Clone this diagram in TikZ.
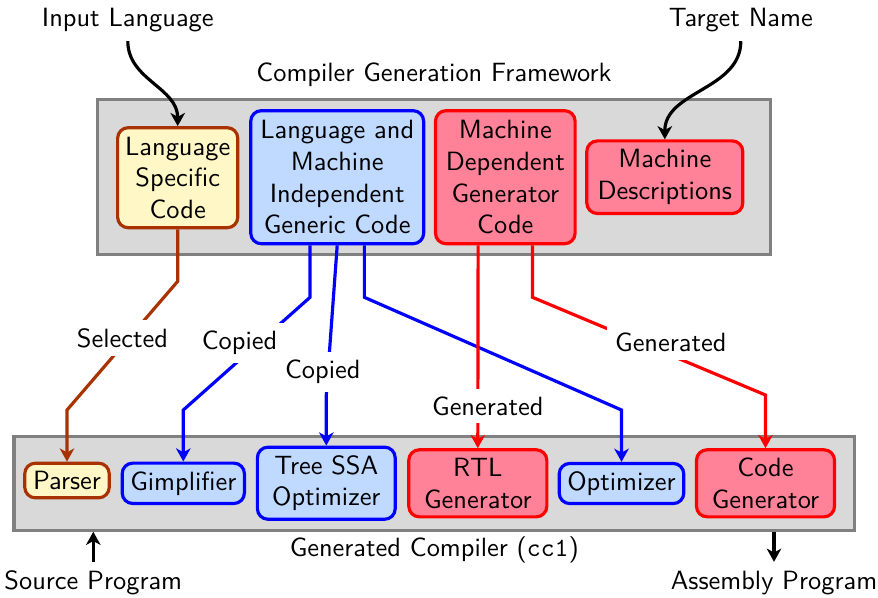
\documentclass[tikz,border=0pt]{standalone}
\usepackage{xcolor}
\usetikzlibrary{arrows.meta}
\definecolor{yelfill}{HTML}{FFF8C6}
\definecolor{yeldraw}{HTML}{A83200}
\definecolor{bluefill}{HTML}{BFD9FF}
\definecolor{redfill}{HTML}{FF8298}
\definecolor{panelfill}{HTML}{D9D9D9}
\definecolor{paneldraw}{HTML}{808080}

\begin{document}
\begin{tikzpicture}[x=0.3788pt,y=0.3788pt,yscale=-1,xscale=1,font=\sffamily,
	box/.style={rounded corners=4pt,very thick,align=center,inner sep=1pt},
	langbox/.style={box,draw=yeldraw,fill=yelfill},
	genbox/.style={box,draw=blue,fill=bluefill},
	machbox/.style={box,draw=red,fill=redfill},
	panel/.style={draw=paneldraw,fill=panelfill,very thick,inner sep=0pt},
	lab/.style={fill=white,inner sep=3pt},
	link/.style={very thick,-{Stealth[length=5pt,width=5.5pt,inset=1.5pt]}}]
	\useasboundingbox (0,0) rectangle (878,597);
	\node [panel,minimum width=254.9pt,minimum height=58.7pt] (fw) at (434.2,177.2) {};
	\node [panel,minimum width=318.4pt,minimum height=35.5pt] (cc) at (434.2,483.3) {};
	\node (fwtitle) at (434,74.5) {Compiler Generation Framework};
	\node (cctitle) at (434.3,550) {Generated Compiler (\texttt{cc1})};
	\node [langbox,minimum width=45.5pt,minimum height=37.9pt] (lsc) at (177.7,177.7) {Language\\Specific\\Code};
	\node [genbox,minimum width=65.5pt,minimum height=50.4pt] (gen) at (337.2,177.2) {Language and\\Machine\\Independent\\Generic Code};
	\node [machbox,minimum width=52.9pt,minimum height=50.4pt] (mdg) at (505.3,177.2) {Machine\\Dependent\\Generator\\Code};
	\node [machbox,minimum width=59.1pt,minimum height=27.5pt] (mdesc) at (664.8,177.2) {Machine\\Descriptions};
	\node [langbox,minimum width=32pt,minimum height=13.1pt] (parser) at (67,480.5) {Parser};
	\node [genbox,minimum width=46.3pt,minimum height=15.3pt] (gimp) at (183.3,483.3) {Gimplifier};
	\node [genbox,minimum width=52.2pt,minimum height=27.3pt] (tssa) at (326.3,483.2) {Tree SSA\\Optimizer};
	\node [machbox,minimum width=52.3pt,minimum height=25.4pt] (rtl) at (477.8,483.3) {RTL\\Generator};
	\node [genbox,minimum width=47.2pt,minimum height=15.2pt] (opt) at (621.5,483.5) {Optimizer};
	\node [machbox,minimum width=52.3pt,minimum height=25.4pt] (cgen) at (765.5,483.3) {Code\\Generator};
	\node (inlang) at (127.8,20) {Input Language};
	\node (target) at (740.8,20) {Target Name};
	\node (src) at (93.3,583) {Source Program};
	\node (asm) at (774,583) {Assembly Program};
	\draw [link] (inlang.south) to[out=90,in=-90] (lsc.north);
	\draw [link] (target.south) to[out=90,in=-90] (mdesc.north);
	\draw [link] (src.north) -- (src.north |- cc.south);
	\draw [link] (asm.north |- cc.south) -- (asm.north);
	\draw [link,blue] ([xshift=-10.3pt]gen.south) -- ++(0,52) -- (gimp.north |- 0,410) -- (gimp.north);
	\draw [link,blue] (gen.south) -- (tssa.north |- 0,395) -- (tssa.north);
	\draw [link,blue] ([xshift=10.3pt]gen.south) -- ++(0,52) -- (opt.north |- 0,410) -- (opt.north);
	\draw [link,yeldraw] (lsc.south) -- ++(0,52) -- (parser.north |- 0,410) -- (parser.north);
	\draw [link,red] ([xshift=-10.3pt]mdg.south) -- (rtl.north);
	\draw [link,red] ([xshift=10.3pt]mdg.south) -- ++(0,52) -- (cgen.north |- 0,395) -- (cgen.north);
	\node [lab] (lsel) at (122.5,338) {Selected};
	\node [lab] (lcopyA) at (239.5,343) {Copied};
	\node [lab] (lcopyB) at (322.8,371.7) {Copied};
	\node [lab] (lgenA) at (487.8,406) {Generated};
	\node [lab] (lgenB) at (670.8,342.5) {Generated};
\end{tikzpicture}
\end{document}
